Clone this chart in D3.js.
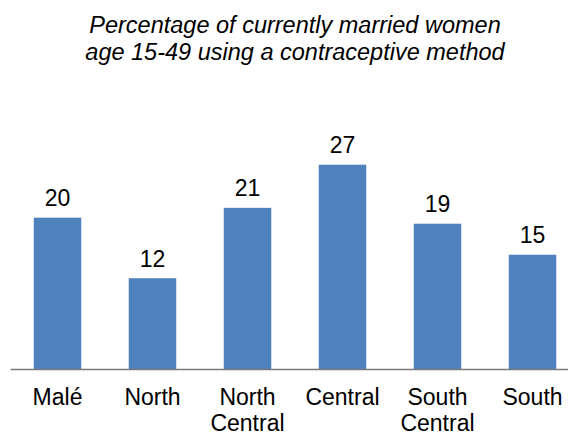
<!DOCTYPE html>
<html>
<head>
<meta charset="utf-8">
<script src="https://cdn.jsdelivr.net/npm/d3@7"></script>
<style>
    body { margin: 0; background: #fff; }
    svg { display: block; font-family: "Liberation Sans", Arial, sans-serif; }
    .bar { fill: #4f81bd; }
    .value-label { font-size: 23px; fill: #000; text-anchor: middle; }
    .chart-title { font-size: 23.5px; font-style: italic; fill: #000; text-anchor: middle; }
    .xAxis text { font-size: 23px; fill: #000; }
    .xAxis path { stroke: #7a7a7a; stroke-width: 1.5px; }
</style>
</head>
<body>
<div id="chart"></div>
<script>

var regions = ['Malé', 'North', 'North Central', 'Central', 'South Central', 'South'];
var regionLines = [['Malé'], ['North'], ['North', 'Central'], ['Central'], ['South', 'Central'], ['South']];
var pctUsing = [20.0, 12.0, 21.3, 27.0, 19.2, 15.1];
var titleLines = ['Percentage of currently married women', 'age 15-49 using a contraceptive method'];

var width = 568;
var height = 436;
var margin = {top: 142, left: 10, bottom: 67};
var plotRight = 580;   // last band runs off the right edge, like the original
var baseY = height - margin.bottom;

var x = d3.scaleBand()
    .domain(regions)
    .range([margin.left, plotRight])
    .paddingInner(0.5)
    .paddingOuter(0.25);

var y = d3.scaleLinear()
    .domain([0, 30])
    .range([baseY, margin.top]);

var svg = d3.select('#chart')
    .append('svg')
    .attr('width', width)
    .attr('height', height);

// title
svg.append('text')
    .attr('class', 'chart-title')
    .selectAll('tspan')
    .data(titleLines)
  .enter().append('tspan')
    .attr('x', (margin.left + plotRight) / 2)
    .attr('y', function(d, i) { return 33 + i * 27; })
    .text(function(d) { return d; });

// bars
svg.selectAll('.bar')
    .data(pctUsing)
  .enter().append('rect')
    .attr('class', 'bar')
    .attr('x', function(d, i) { return x(regions[i]); })
    .attr('width', x.bandwidth())
    .attr('y', function(d) { return y(d); })
    .attr('height', function(d) { return baseY - y(d); });

svg.selectAll('.value-label')
    .data(pctUsing)
  .enter().append('text')
    .attr('class', 'value-label')
    .attr('x', function(d, i) { return x(regions[i]) + x.bandwidth() / 2; })
    .attr('y', function(d) { return y(d) - 11.5; })
    .text(function(d) { return d3.format('.0f')(d); });

// x axis, labels split over two lines
var xAxis = svg.append('g')
    .attr('class', 'xAxis')
    .attr('transform', 'translate(0,' + baseY + ')')
    .call(d3.axisBottom(x).tickSize(0).tickSizeOuter(0));

xAxis.selectAll('.tick text')
    .attr('dy', null)
    .attr('y', null)
    .text(null)
    .each(function(d, i) {
        d3.select(this).selectAll('tspan')
            .data(regionLines[i])
          .enter().append('tspan')
            .attr('x', 0)
            .attr('y', function(t, j) { return 36 + j * 26; })
            .text(function(t) { return t; });
    });

</script>
</body>
</html>
